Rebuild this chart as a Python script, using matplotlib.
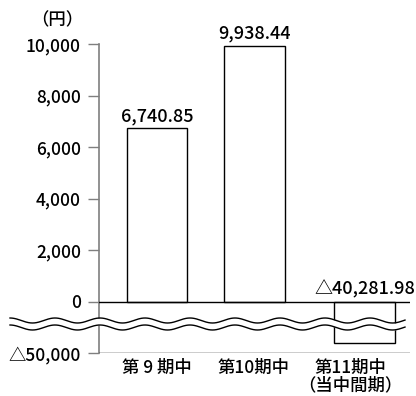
import matplotlib.pyplot as plt
import numpy as np
from matplotlib.ticker import FuncFormatter

plt.rcParams["font.family"] = ["Noto Sans CJK JP", "DejaVu Sans"]
plt.rcParams["font.weight"] = "medium"

# Per-period figures (yen)
periods = ["第 9 期中", "第10期中", "第11期中\n（当中間期）"]
values = [6740.85, 9938.44, -40281.98]
y_ticks = [-50000, 0, 2000, 4000, 6000, 8000, 10000]

# negative side is compressed so the break fits below zero
NEG_SQUEEZE = 0.04


def fwd(y):
    y = np.asarray(y, dtype=float)
    return np.where(y < 0, y * NEG_SQUEEZE, y)


def inv(y):
    y = np.asarray(y, dtype=float)
    return np.where(y < 0, y / NEG_SQUEEZE, y)


def fmt_yen(v, _pos=None):
    if v < 0:
        return f"△{abs(v):,.0f}"
    return f"{v:,.0f}"


def main() -> None:
    W, H = 416, 396
    fig = plt.figure(figsize=(W / 100, H / 100), dpi=100)
    ax = fig.add_axes([99 / W, 43 / H, (410 - 99) / W, 309 / H])

    ax.set_yscale("function", functions=(fwd, inv))
    ax.set_ylim(-50000, 10000)
    ax.set_xlim(-0.601, 2.622)

    bar_x = [0.0, 1.015, 2.155]
    bars = ax.bar(bar_x, values, width=0.632, color="white",
                  edgecolor="black", linewidth=1.0, zorder=2)

    for b, v in zip(bars, values):
        label = f"△{abs(v):,.2f}" if v < 0 else f"{v:,.2f}"
        ax.annotate(label, xy=(b.get_x() + b.get_width() / 2, max(v, 0)),
                    xytext=(0, 2), textcoords="offset points",
                    ha="center", va="bottom", fontsize=13)

    for spine in ("top", "right", "bottom"):
        ax.spines[spine].set_visible(False)
    ax.spines["left"].set_color("#7f7f7f")
    ax.spines["left"].set_linewidth(1.2)

    ax.axhline(0, color="black", linewidth=1.0, zorder=3)
    ax.axhline(-50000, color="black", linewidth=1.0, zorder=3)

    ax.set_yticks(y_ticks)
    ax.yaxis.set_major_formatter(FuncFormatter(fmt_yen))
    ax.tick_params(axis="y", length=8, width=1.0, color="#7f7f7f",
                   pad=5, labelsize=12.5)
    for tick, v in zip(ax.yaxis.get_major_ticks(), y_ticks):
        if v <= 0:
            tick.tick1line.set_color("black")

    ax.set_xticks([0, 1, 2])
    ax.set_xticklabels(periods, fontsize=12.5, linespacing=1.0)
    ax.tick_params(axis="x", length=0, pad=4)

    ax.annotate("（円）", xy=(0, 1), xycoords="axes fraction",
                xytext=(-42, 24), textcoords="offset pixels",
                ha="center", va="center", fontsize=12.5)

    # axis break: two wavy lines with a white gap between them
    xs = np.linspace(10, 405, 600)
    phase = np.cos(2 * np.pi * (xs - 10) / 45)
    upper = 320.5 - 2.5 * phase
    lower = 327.5 - 2.5 * phase
    fx = xs / W
    ax.fill_between(fx, 1 - upper / H, 1 - lower / H, color="white",
                    transform=fig.transFigure, clip_on=False, zorder=5,
                    linewidth=0)
    for line in (upper, lower):
        ax.plot(fx, 1 - line / H, color="black", linewidth=1.0,
                transform=fig.transFigure, clip_on=False, zorder=6)

    fig.savefig("out.png", dpi=100)


if __name__ == "__main__":
    main()
